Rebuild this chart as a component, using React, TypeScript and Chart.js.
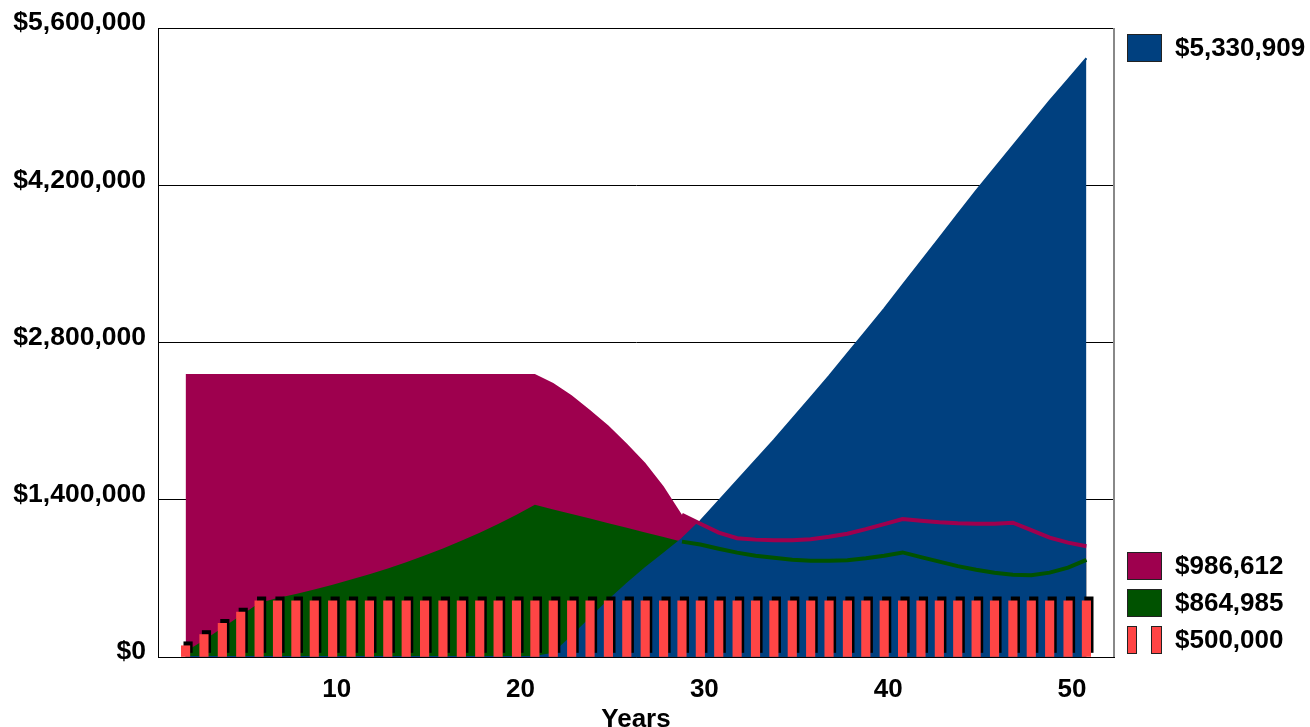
import React, { useEffect, useRef } from "react";
import { Chart, registerables } from "chart.js";

Chart.register(...registerables);

// ---------- data ----------
const years = [
  2, 3, 4, 5, 6, 7, 8, 9, 10, 11, 12, 13, 14, 15, 16, 17, 18, 19, 20, 21,
  22, 23, 24, 25, 26, 27, 28, 29, 30, 31, 32, 33, 34, 35, 36, 37, 38, 39, 40, 41,
  42, 43, 44, 45, 46, 47, 48, 49, 50, 51,
];

const contributions = [
  100000, 200000, 300000, 400000, 500000, 500000, 500000, 500000, 500000, 500000,
  500000, 500000, 500000, 500000, 500000, 500000, 500000, 500000, 500000, 500000,
  500000, 500000, 500000, 500000, 500000, 500000, 500000, 500000, 500000, 500000,
  500000, 500000, 500000, 500000, 500000, 500000, 500000, 500000, 500000, 500000,
  500000, 500000, 500000, 500000, 500000, 500000, 500000, 500000, 500000, 500000,
];

const magentaValues = [
  2520000, 2520000, 2520000, 2520000, 2520000, 2520000, 2520000, 2520000, 2520000, 2520000,
  2520000, 2520000, 2520000, 2520000, 2520000, 2520000, 2520000, 2520000, 2520000, 2520000,
  2440000, 2330000, 2200000, 2060000, 1900000, 1730000, 1520000, 1267000,
  1187000, 1107000, 1058000, 1045000, 1040000, 1040000, 1049000, 1071000, 1098000, 1138000,
  1183000, 1229000, 1214000, 1200000, 1191000, 1187000, 1187000, 1196000, 1130000, 1062000,
  1018000, 986612,
];

const greenValues = [
  50000, 150000, 260000, 370000, 480000, 525000, 562000, 602000, 644000, 689000,
  737000, 789000, 844000, 903000, 966000, 1034000, 1106000, 1184000, 1267000, 1356000,
  1314000, 1273000, 1232000, 1191000, 1150000, 1109000, 1068000, 1027000,
  1002000, 964000, 929000, 902000, 884000, 866000, 858000, 858000, 862000, 880000,
  902000, 931000, 889000, 849000, 809000, 777000, 751000, 733000, 728000, 751000,
  795000, 864985,
];

const blueValues = [
  0, 0, 0, 0, 0, 0, 0, 0, 0, 0,
  0, 0, 0, 0, 0, 0, 0, 0, 0, 0,
  30000, 180000, 340000, 500000, 650000, 790000, 920000, 1050000, 1210000, 1390000,
  1570000, 1750000, 1930000, 2120000, 2310000, 2500000, 2700000, 2900000, 3100000, 3310000,
  3520000, 3730000, 3940000, 4150000, 4350000, 4550000, 4750000, 4950000, 5140000, 5330909,
];

const xTickValues = [10, 20, 30, 40, 50];
const yTickValues = [0, 1400000, 2800000, 4200000, 5600000];

// ---------- styles ----------
const MAGENTA = "#9E004E";
const GREEN = "#005200";
const BLUE = "#00407F";
const RED = "#FF4545";
const FONT_FAMILY = '"Liberation Sans", Arial, Helvetica, sans-serif';

const money = (v: number) =>
  "$" + Math.round(v).toString().replace(/\B(?=(\d{3})+(?!\d))/g, ",");

const last = (a: number[]) => a[a.length - 1];

const toPoints = (vals: number[]) => years.map((x, i) => ({ x, y: vals[i] }));

// black offset shadow behind the bars
const barShadow = {
  id: "barShadow",
  beforeDatasetDraw(chart: any, args: any) {
    if (chart.data.datasets[args.index].type !== "bar") return;
    const ctx = chart.ctx;
    const r = chart.currentDevicePixelRatio || 1;
    ctx.save();
    ctx.shadowColor = "#000";
    ctx.shadowBlur = 0;
    ctx.shadowOffsetX = 2.5 * r;
    ctx.shadowOffsetY = -4 * r;
  },
  afterDatasetDraw(chart: any, args: any) {
    if (chart.data.datasets[args.index].type !== "bar") return;
    chart.ctx.restore();
  },
};

// top + right frame lines and the value legend at the right
const frameAndLegend = {
  id: "frameAndLegend",
  afterDraw(chart: any) {
    const { ctx, chartArea } = chart;
    const { left, right, top, bottom } = chartArea;
    ctx.save();
    ctx.lineWidth = 1;
    ctx.strokeStyle = "#000";
    ctx.beginPath();
    ctx.moveTo(left, top + 0.5);
    ctx.lineTo(right, top + 0.5);
    ctx.stroke();
    ctx.strokeStyle = "#888";
    ctx.lineWidth = 2;
    ctx.beginPath();
    ctx.moveTo(right, top);
    ctx.lineTo(right, bottom);
    ctx.stroke();

    const sx = right + 13;
    const tx = right + 61;
    const w = 35;
    const h = 28;
    const items = [
      { y: top + 20, color: BLUE, text: money(last(blueValues)), kind: "box" },
      { y: bottom - 91, color: MAGENTA, text: money(last(magentaValues)), kind: "box" },
      { y: bottom - 54, color: GREEN, text: money(last(greenValues)), kind: "box" },
      { y: bottom - 17, color: RED, text: money(last(contributions)), kind: "bars" },
    ];
    ctx.font = "bold 26px " + FONT_FAMILY;
    ctx.textBaseline = "middle";
    ctx.textAlign = "left";
    for (const it of items) {
      ctx.fillStyle = it.color;
      ctx.strokeStyle = "#222";
      ctx.lineWidth = 1;
      if (it.kind === "box") {
        ctx.fillRect(sx, it.y - h / 2, w, h);
        ctx.strokeRect(sx + 0.5, it.y - h / 2 + 0.5, w - 1, h - 1);
      } else {
        ctx.fillRect(sx, it.y - h / 2, 10, h);
        ctx.strokeRect(sx + 0.5, it.y - h / 2 + 0.5, 9, h - 1);
        ctx.fillRect(sx + 24, it.y - h / 2, 11, h);
        ctx.strokeRect(sx + 24.5, it.y - h / 2 + 0.5, 10, h - 1);
      }
      ctx.fillStyle = "#000";
      ctx.fillText(it.text, tx, it.y + 1);
    }
    ctx.restore();
  },
};

export default function App() {
  const canvasRef = useRef<HTMLCanvasElement | null>(null);

  useEffect(() => {
    if (!canvasRef.current) return;
    const lineSegment = (color: string) => ({
      borderColor: (c: any) => (c.p0.parsed.x >= 29 ? color : "rgba(0,0,0,0)"),
    });

    const chart = new Chart(canvasRef.current, {
      type: "line",
      data: {
        datasets: [
          {
            type: "bar",
            label: "contributions",
            data: toPoints(contributions),
            backgroundColor: RED,
            borderWidth: 0,
            barThickness: 8.5,
            order: 1,
          } as any,
          {
            type: "line",
            label: "green line",
            data: toPoints(greenValues),
            borderColor: GREEN,
            borderWidth: 4,
            pointRadius: 0,
            fill: false,
            tension: 0,
            segment: lineSegment(GREEN),
            order: 2,
          },
          {
            type: "line",
            label: "magenta line",
            data: toPoints(magentaValues),
            borderColor: MAGENTA,
            borderWidth: 4,
            pointRadius: 0,
            fill: false,
            tension: 0,
            segment: lineSegment(MAGENTA),
            order: 3,
          },
          {
            type: "line",
            label: "blue",
            data: toPoints(blueValues),
            borderColor: BLUE,
            backgroundColor: BLUE,
            borderWidth: 2,
            pointRadius: 0,
            fill: "origin",
            tension: 0,
            order: 4,
          },
          {
            type: "line",
            label: "green",
            data: toPoints(greenValues),
            borderWidth: 0,
            backgroundColor: GREEN,
            pointRadius: 0,
            fill: "origin",
            tension: 0,
            order: 5,
          },
          {
            type: "line",
            label: "magenta",
            data: toPoints(magentaValues),
            borderWidth: 0,
            backgroundColor: MAGENTA,
            pointRadius: 0,
            fill: "origin",
            tension: 0,
            order: 6,
          },
        ],
      },
      options: {
        responsive: false,
        animation: false,
        layout: { padding: { top: 28, right: 196, left: 0, bottom: 0 } },
        plugins: {
          legend: { display: false },
          tooltip: { enabled: false },
          title: { display: false },
        },
        scales: {
          x: {
            type: "linear",
            min: 0.5,
            max: 52.5,
            offset: false,
            afterFit: (s: any) => {
              s.height = 70;
            },
            afterBuildTicks: (s: any) => {
              s.ticks = xTickValues.map((v) => ({ value: v }));
            },
            grid: { display: false, drawTicks: false },
            border: { display: true, color: "#000", width: 1 },
            ticks: {
              autoSkip: false,
              maxRotation: 0,
              padding: 17,
              labelOffset: 4,
              color: "#000",
              font: { family: FONT_FAMILY, size: 26, weight: "bold" },
              callback: (v: any) => String(v),
            },
            title: {
              display: true,
              text: "Years",
              color: "#000",
              padding: { top: 0, bottom: -6 },
              font: { family: FONT_FAMILY, size: 26, weight: "bold", lineHeight: 1 },
            },
          },
          y: {
            min: 0,
            max: 5600000,
            afterFit: (s: any) => {
              s.width = 158;
            },
            afterBuildTicks: (s: any) => {
              s.ticks = yTickValues.map((v) => ({ value: v }));
            },
            grid: { color: "#000", lineWidth: 1, drawTicks: false },
            border: { display: true, color: "#000", width: 1 },
            ticks: {
              padding: 12,
              labelOffset: -5,
              color: "#000",
              font: { family: FONT_FAMILY, size: 26.5, weight: "bold" },
              callback: (v: any) => money(Number(v)),
            },
          },
        },
      } as any,
      plugins: [barShadow, frameAndLegend],
    });
    return () => chart.destroy();
  }, []);

  return (
    <div style={{ position: "absolute", left: 0, top: 0, width: 1310, height: 727, background: "#fff" }}>
      <canvas ref={canvasRef} width={1310} height={727} style={{ display: "block" }} />
    </div>
  );
}
